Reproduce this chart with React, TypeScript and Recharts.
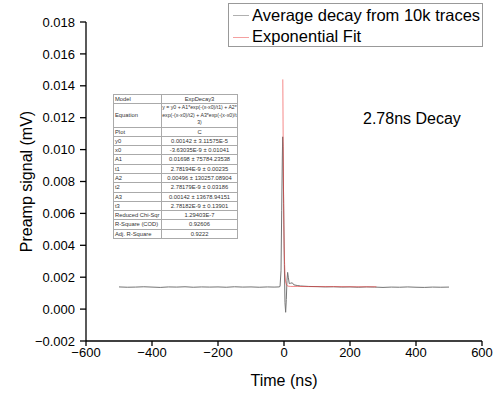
import React from 'react';
import { LineChart, Line, XAxis, YAxis, Label } from 'recharts';

// averaged trace (ns, mV)
const traceTime = [
  -500, -475, -450, -425, -400, -375, -350, -325, -300, -275, -250, -225, -200, -175, -150, -125, -100, -75, -50, -30,
  -15, -12, -9, -7, -5, -4, -3, -1, 1, 3, 5, 7, 9, 11, 13, 16, 20, 25, 30, 40, 50, 75,
  100, 125, 150, 175, 200, 225, 250, 275, 300, 325, 350, 375, 400, 425, 450, 475, 500,
];
const traceSignal = [
  0.00139, 0.00137, 0.00138, 0.0014, 0.00138, 0.00136, 0.00139, 0.00138, 0.0014, 0.00137, 0.00139, 0.00138, 0.00139, 0.00137, 0.0014, 0.00138, 0.00139, 0.00137, 0.00139, 0.00138,
  0.00139, 0.00142, 0.0024, 0.0062, 0.0096, 0.0108, 0.0102, 0.0066, 0.0028, 0.0004, -0.0002, 0.0006, 0.0018, 0.0023, 0.002, 0.0016, 0.00162, 0.00165, 0.00152, 0.00148, 0.00145, 0.00142,
  0.00141, 0.00139, 0.0014, 0.00138, 0.00139, 0.00137, 0.00139, 0.00138, 0.00136, 0.00138, 0.00137, 0.00139, 0.00137, 0.00136, 0.00138, 0.00137, 0.00138,
];

// ExpDecay3 fit
const fitTime = [-3.6, -2.5, -1.5, -0.5, 0.5, 1.5, 3, 5, 8, 12, 20, 40, 80, 150, 220, 280];
const fitSignal = [0.0144, 0.0105, 0.0074, 0.0053, 0.0039, 0.003, 0.0022, 0.0017, 0.0015, 0.00144, 0.00142, 0.00142, 0.00141, 0.00141, 0.0014, 0.0014];

const xMajorTicks = [-600, -400, -200, 0, 200, 400, 600];
const xMinorTicks = [-500, -300, -100, 100, 300, 500];
const yMajorTicks = [-0.002, 0, 0.002, 0.004, 0.006, 0.008, 0.01, 0.012, 0.014, 0.016, 0.018];
const yMinorTicks = [-0.001, 0.001, 0.003, 0.005, 0.007, 0.009, 0.011, 0.013, 0.015, 0.017];

const fitParams = [
  ['Model', 'ExpDecay3'],
  ['Equation', 'y = y0 + A1*exp(-(x-x0)/t1) + A2*\nexp(-(x-x0)/t2) + A3*exp(-(x-x0)/t\n3)'],
  ['Plot', 'C'],
  ['y0', '0.00142 ± 3.11575E-5'],
  ['x0', '-3.63035E-9 ± 0.01041'],
  ['A1', '0.01698 ± 75784.23538'],
  ['t1', '2.78194E-9 ± 0.00235'],
  ['A2', '0.00496 ± 130257.08904'],
  ['t2', '2.78179E-9 ± 0.03186'],
  ['A3', '0.00142 ± 13678.94151'],
  ['t3', '2.78182E-9 ± 0.13901'],
  ['Reduced Chi-Sqr', '1.29403E-7'],
  ['R-Square (COD)', '0.92606'],
  ['Adj. R-Square', '0.9222'],
];

const traceData = traceTime.map((t, i) => ({ t, v: traceSignal[i] }));
const fitData = fitTime.map((t, i) => ({ t, v: fitSignal[i] }));

const FONT = '"Liberation Sans", Arial, sans-serif';
const minus = (s: string) => s.replace('-', '\u2212');
const tickStyle = { fontSize: 13, fill: '#000', fontFamily: FONT };
const axisStroke = { stroke: '#000', strokeWidth: 1.3 };
const cell = { border: '0.5px solid #aaa', lineHeight: '8.3px', whiteSpace: 'pre' as const, overflow: 'hidden' };

export default function App() {
  return (
    <div style={{ position: 'absolute', left: 0, top: 0, width: 495, height: 393, background: '#fff', fontFamily: FONT }}>
      <LineChart width={495} height={393} margin={{ top: 22, right: 13, bottom: 0, left: 0 }}>
        {/* minor ticks first so they sit on the frame */}
        <XAxis xAxisId="bMinor" type="number" dataKey="t" domain={[-600, 600]} ticks={xMinorTicks} height={0}
          axisLine={false} tick={false} tickSize={3} tickLine={axisStroke} allowDataOverflow />
        <XAxis xAxisId="main" type="number" dataKey="t" domain={[-600, 600]} ticks={xMajorTicks} height={52}
          axisLine={axisStroke} tickLine={axisStroke} tickSize={5} tickMargin={2} tick={tickStyle}
          tickFormatter={(v: number) => minus(String(v))} allowDataOverflow>
          <Label content={(p: any) => (
            <text x={p.viewBox.x + p.viewBox.width / 2} y={p.viewBox.y + 45} textAnchor="middle"
              fontSize={16} fontFamily={FONT} fill="#000">Time (ns)</text>
          )} />
        </XAxis>
        <XAxis xAxisId="top" orientation="top" type="number" dataKey="t" domain={[-600, 600]} ticks={xMajorTicks}
          height={0} mirror axisLine={axisStroke} tickLine={axisStroke} tickSize={5} tick={false} allowDataOverflow />
        <XAxis xAxisId="tMinor" orientation="top" type="number" dataKey="t" domain={[-600, 600]} ticks={xMinorTicks}
          height={0} mirror axisLine={false} tickLine={axisStroke} tickSize={3} tick={false} allowDataOverflow />

        <YAxis yAxisId="lMinor" type="number" dataKey="v" domain={[-0.002, 0.018]} ticks={yMinorTicks} width={0}
          axisLine={false} tick={false} tickSize={3} tickLine={axisStroke} allowDataOverflow />
        <YAxis yAxisId="main" type="number" dataKey="v" domain={[-0.002, 0.018]} ticks={yMajorTicks} width={86}
          axisLine={axisStroke} tickLine={axisStroke} tickSize={6} tickMargin={5} tick={tickStyle}
          tickFormatter={(v: number) => minus(v.toFixed(3))} allowDataOverflow>
          <Label content={(p: any) => {
            const cx = 26;
            const cy = p.viewBox.y + p.viewBox.height / 2;
            return (
              <text x={cx} y={cy} transform={`rotate(-90 ${cx} ${cy})`} textAnchor="middle" dominantBaseline="central"
                fontSize={16} fontFamily={FONT} fill="#000">Preamp signal (mV)</text>
            );
          }} />
        </YAxis>
        <YAxis yAxisId="right" orientation="right" type="number" dataKey="v" domain={[-0.002, 0.018]} ticks={yMajorTicks}
          width={0} mirror axisLine={axisStroke} tickLine={axisStroke} tickSize={5} tick={false} allowDataOverflow />
        <YAxis yAxisId="rMinor" orientation="right" type="number" dataKey="v" domain={[-0.002, 0.018]} ticks={yMinorTicks}
          width={0} mirror axisLine={false} tickLine={axisStroke} tickSize={3} tick={false} allowDataOverflow />

        <Line data={traceData} xAxisId="main" yAxisId="main" dataKey="v" type="linear" stroke="#747474"
          strokeWidth={1} dot={false} isAnimationActive={false} />
        <Line data={fitData} xAxisId="main" yAxisId="main" dataKey="v" type="linear" stroke="#ee3b3b"
          strokeOpacity={0.6} strokeWidth={1} dot={false} isAnimationActive={false} />
      </LineChart>

      {/* legend */}
      <div style={{ position: 'absolute', left: 228, top: 3, width: 253, height: 42, border: '1px solid #999', background: '#fff' }}>
        <div style={{ position: 'absolute', left: 4, top: 11, width: 16, height: 1, background: '#b0b0b0' }} />
        <div style={{ position: 'absolute', left: 23, top: 2, fontSize: 16.5, lineHeight: '19px', whiteSpace: 'nowrap' }}>
          Average decay from 10k traces
        </div>
        <div style={{ position: 'absolute', left: 4, top: 33, width: 16, height: 1, background: '#f4a0a0' }} />
        <div style={{ position: 'absolute', left: 23, top: 23, fontSize: 16.5, lineHeight: '19px', whiteSpace: 'nowrap' }}>
          Exponential Fit
        </div>
      </div>

      <div style={{ position: 'absolute', left: 363, top: 110, fontSize: 16, lineHeight: '18px', whiteSpace: 'nowrap' }}>
        2.78ns Decay
      </div>

      {/* fit report table */}
      <table style={{ position: 'absolute', left: 113, top: 94, width: 124, tableLayout: 'fixed', borderCollapse: 'collapse',
        fontSize: 5.8, color: '#333', fontFamily: FONT, background: '#fff' }}>
        <colgroup>
          <col style={{ width: 48 }} />
          <col style={{ width: 76 }} />
        </colgroup>
        <tbody>
          {fitParams.map(([k, v]) => (
            <tr key={k}>
              <td style={{ ...cell, padding: '0 1px' }}>{k}</td>
              <td style={{ ...cell, padding: 0, textAlign: 'center', fontSize: k === 'Equation' ? 5.2 : undefined, lineHeight: k === 'Equation' ? '7.4px' : cell.lineHeight }}>{v}</td>
            </tr>
          ))}
        </tbody>
      </table>
    </div>
  );
}
